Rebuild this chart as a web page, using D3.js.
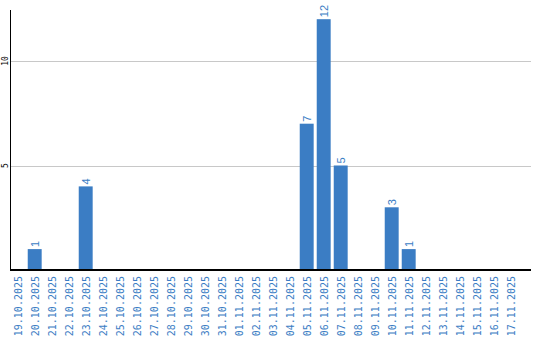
<!DOCTYPE html>
<html>
<head>
<meta charset="utf-8">
<script src="https://cdn.jsdelivr.net/npm/d3@7"></script>
<style>
  body { margin: 0; background: #fff; }
  svg { display: block; }
</style>
</head>
<body>
<div class="chart"></div>
<script>
var dates = [
  "19.10.2025", "20.10.2025", "21.10.2025", "22.10.2025", "23.10.2025",
  "24.10.2025", "25.10.2025", "26.10.2025", "27.10.2025", "28.10.2025",
  "29.10.2025", "30.10.2025", "31.10.2025", "01.11.2025", "02.11.2025",
  "03.11.2025", "04.11.2025", "05.11.2025", "06.11.2025", "07.11.2025",
  "08.11.2025", "09.11.2025", "10.11.2025", "11.11.2025", "12.11.2025",
  "13.11.2025", "14.11.2025", "15.11.2025", "16.11.2025", "17.11.2025"
];
var counts = [0, 1, 0, 0, 4, 0, 0, 0, 0, 0, 0, 0, 0, 0, 0, 0, 0, 7, 12, 5, 0, 0, 3, 1, 0, 0, 0, 0, 0, 0];
var yTicks = [5, 10];

var opts = { width: 540, height: 340, left: 9.2, right: 519.2, top: 10, bottom: 270, axisEnd: 531 };
var blue = "#3b7dc4";

var svg = d3.select('.chart').append('svg')
  .attr('width', opts.width)
  .attr('height', opts.height);

var x = d3.scaleBand()
  .domain(dates)
  .range([opts.left, opts.right])
  .paddingInner(0.18)
  .paddingOuter(0.09);

var y = d3.scaleLinear()
  .domain([0, 10])
  .range([opts.bottom, 61]);

// gridlines
svg.selectAll('line.grid')
  .data(yTicks)
  .enter().append('line')
  .attr('class', 'grid')
  .attr('x1', 10)
  .attr('x2', opts.axisEnd)
  .attr('y1', function(d) { return Math.round(y(d)) + 0.5; })
  .attr('y2', function(d) { return Math.round(y(d)) + 0.5; })
  .attr('stroke', '#c8c8c8')
  .attr('stroke-width', 1);

// y tick labels (rotated)
svg.selectAll('text.ytick')
  .data(yTicks)
  .enter().append('text')
  .attr('class', 'ytick')
  .attr('transform', function(d) { return 'translate(8,' + y(d) + ') rotate(-90)'; })
  .attr('text-anchor', 'middle')
  .attr('font-family', 'DejaVu Sans Mono, monospace')
  .attr('font-size', 8)
  .attr('fill', '#000')
  .text(function(d) { return d; });

// bars
var bars = dates.map(function(d, i) { return { date: d, value: counts[i] }; });

svg.selectAll('rect.bar')
  .data(bars.filter(function(d) { return d.value > 0; }))
  .enter().append('rect')
  .attr('class', 'bar')
  .attr('x', function(d) { return x(d.date); })
  .attr('width', x.bandwidth())
  .attr('y', function(d) { return y(d.value); })
  .attr('height', function(d) { return opts.bottom - y(d.value); })
  .attr('fill', blue);

// value labels
svg.selectAll('text.val')
  .data(bars.filter(function(d) { return d.value > 0; }))
  .enter().append('text')
  .attr('class', 'val')
  .attr('transform', function(d) {
    return 'translate(' + (x(d.date) + x.bandwidth() / 2 + 4) + ',' + (y(d.value) - 2) + ') rotate(-90)';
  })
  .attr('text-anchor', 'start')
  .attr('font-family', 'Liberation Sans, Arial, sans-serif')
  .attr('font-size', 11)
  .attr('fill', blue)
  .text(function(d) { return d.value; });

// axes lines
svg.append('line')
  .attr('x1', 10.5).attr('x2', 10.5)
  .attr('y1', opts.top).attr('y2', opts.bottom)
  .attr('stroke', '#000').attr('stroke-width', 1);

svg.append('line')
  .attr('x1', 10).attr('x2', opts.axisEnd)
  .attr('y1', opts.bottom).attr('y2', opts.bottom)
  .attr('stroke', '#000').attr('stroke-width', 2);

// x labels (rotated)
svg.selectAll('text.xlab')
  .data(dates)
  .enter().append('text')
  .attr('class', 'xlab')
  .attr('transform', function(d) {
    return 'translate(' + (x(d) + x.bandwidth() / 2 + 4) + ',' + (opts.bottom + 6) + ') rotate(-90)';
  })
  .attr('text-anchor', 'end')
  .attr('font-family', 'DejaVu Sans Mono, monospace')
  .attr('font-size', 10)
  .attr('fill', blue)
  .text(function(d) { return d; });
</script>
</body>
</html>
